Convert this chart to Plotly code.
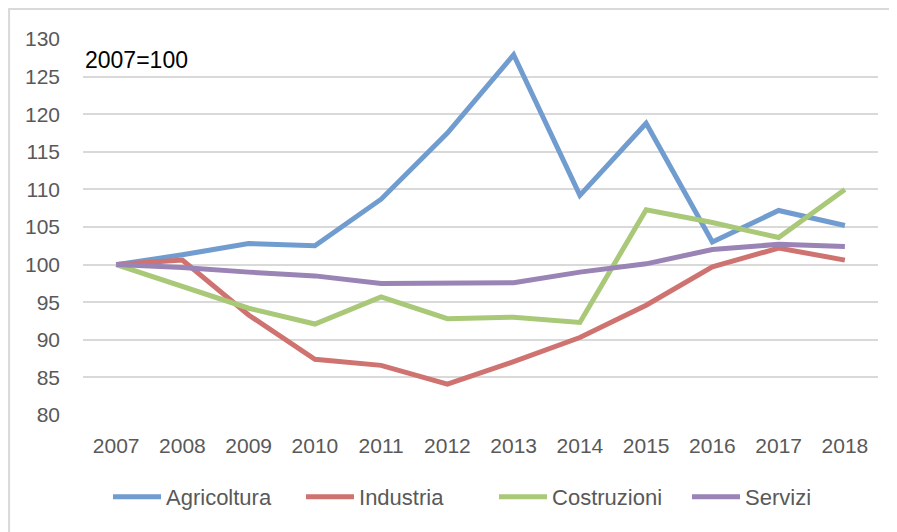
import plotly.graph_objects as go

years = ["2007", "2008", "2009", "2010", "2011", "2012", "2013", "2014", "2015", "2016", "2017", "2018"]
agricoltura = [100, 101.3, 102.8, 102.5, 108.7, 117.5, 127.9, 109.2, 118.8, 103.0, 107.2, 105.2]
industria = [100, 100.6, 93.3, 87.4, 86.6, 84.1, 87.1, 90.3, 94.6, 99.7, 102.2, 100.6]
costruzioni = [100, 97.1, 94.2, 92.1, 95.7, 92.8, 93.0, 92.3, 107.3, 105.6, 103.6, 110.0]
servizi = [100, 99.6, 99.0, 98.5, 97.5, 97.6, 97.6, 99.0, 100.1, 102.0, 102.7, 102.4]
y_ticks = [80, 85, 90, 95, 100, 105, 110, 115, 120, 125, 130]

series = [
    ("Agricoltura", agricoltura, "#719CCF"),
    ("Industria", industria, "#CF7370"),
    ("Costruzioni", costruzioni, "#A9C878"),
    ("Servizi", servizi, "#9A83B5"),
]

fig = go.Figure()
for name, vals, color in series:
    fig.add_trace(go.Scatter(x=years, y=vals, name=name, mode="lines",
                             line=dict(color=color, width=5)))

font_family = "Liberation Sans, Arial, sans-serif"
fig.update_layout(
    width=897, height=532,
    margin=dict(l=75, r=27, t=31, b=125, autoexpand=False),
    plot_bgcolor="white", paper_bgcolor="white",
    font=dict(family=font_family, color="#595959", size=21),
    xaxis=dict(type="category", range=[-0.5, 11.5], showgrid=False, zeroline=False, showline=False,
               ticks="", tickfont=dict(size=21, color="#595959"), ticklabelstandoff=16),
    yaxis=dict(range=[80, 130], tickvals=y_ticks, showgrid=True, gridcolor="#D9D9D9",
               gridwidth=1.5, zeroline=False, showline=False, ticks="",
               tickfont=dict(size=21, color="#595959"), ticklabelstandoff=22),
    legend=dict(orientation="h", xref="container", x=0.1115, xanchor="left",
                yref="container", y=(532 - 489) / 532, yanchor="middle", itemwidth=48,
                font=dict(size=22, color="#595959"), entrywidth=130, entrywidthmode="pixels"),
    showlegend=True,
    shapes=[dict(type="rect", xref="paper", yref="paper", x0=-0.093, x1=1.2, y0=-0.5, y1=1.0798,
                 line=dict(color="#D9D9D9", width=2), fillcolor="rgba(0,0,0,0)", layer="below")],
    annotations=[dict(text="2007=100", xref="paper", yref="y", x=0.0, y=127.2, xanchor="left",
                      yanchor="middle", showarrow=False,
                      font=dict(size=23, color="black", family=font_family))],
)

fig.write_html("out.html")
